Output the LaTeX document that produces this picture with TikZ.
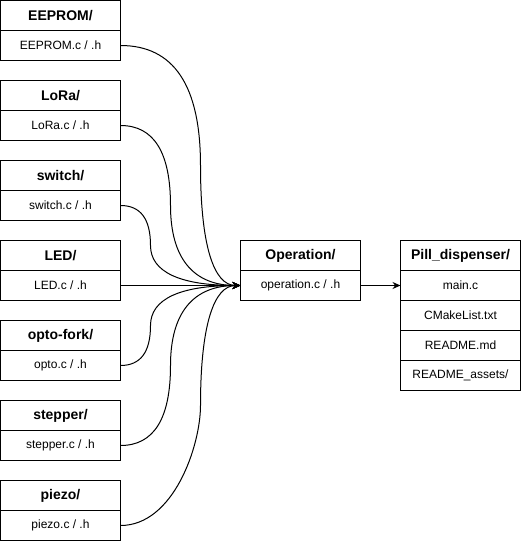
\documentclass[tikz,border=0pt]{standalone}
\usepackage{fontspec}
\setmainfont{Liberation Sans}
\usetikzlibrary{arrows.meta,positioning}

\tikzset{
  box/.style={draw, rectangle, minimum width=120pt, minimum height=30pt, inner sep=0pt, outer sep=0pt, line width=1pt},
  head/.style={box, font=\bfseries\fontsize{14}{16}\selectfont},
  file/.style={box, font=\fontsize{12}{14}\selectfont},
  link/.style={line width=1pt, -{Stealth[length=8pt,width=7pt]}}
}

\begin{document}
\begin{tikzpicture}[x=1pt,y=-1pt]
\useasboundingbox (-0.5,-0.5) rectangle (520.5,540.5);
% module folders
\foreach \name/\folder/\base [count=\i] in {eeprom/EEPROM/EEPROM, lora/LoRa/LoRa, switch/switch/switch, led/LED/LED, opto/opto-fork/opto, stepper/stepper/stepper, piezo/piezo/piezo}{
  \node[head] (\name hd) at (60,{15+80*(\i-1)}) {\folder/};
  \node[file, below=0pt of \name hd] (\name) {\base.c / .h};
}
% operation folder
\node[head] (ophd) at (300,255) {Operation/};
\node[file, below=0pt of ophd] (op) {operation.c / .h};
% project folder
\node[head] (pillhd) at (460,255) {Pill\_dispenser/};
\node[file, below=0pt of pillhd] (main) {main.c};
\node[file, below=0pt of main] (cmake) {CMakeList.txt};
\node[file, below=0pt of cmake] (readme) {README.md};
\node[file, below=0pt of readme] (assets) {README\_assets/};
% links
\draw[link] (eeprom.east) .. controls (173.3,45) and (200,85) .. (200,165) .. controls (200,245) and (213.3,285) .. (op.west);
\draw[link] (lora.east) .. controls (153.3,125) and (170,151.7) .. (170,205) .. controls (170,258.3) and (193.3,285) .. (op.west);
\draw[link] (switch.east) .. controls (140,205) and (150,218.3) .. (150,245) .. controls (150,271.7) and (180,285) .. (op.west);
\draw[link] (led.east) -- (op.west);
\draw[link] (opto.east) .. controls (140,365) and (150,351.7) .. (150,325) .. controls (150,298.3) and (180,285) .. (op.west);
\draw[link] (stepper.east) .. controls (153.3,445) and (170,418.3) .. (170,365) .. controls (170,311.7) and (193.3,285) .. (op.west);
\draw[link] (piezo.east) .. controls (173.3,525) and (200,445) .. (200,405) .. controls (200,325) and (213.3,285) .. (op.west);
\draw[link] (op.east) -- (main.west);
\end{tikzpicture}
\end{document}
